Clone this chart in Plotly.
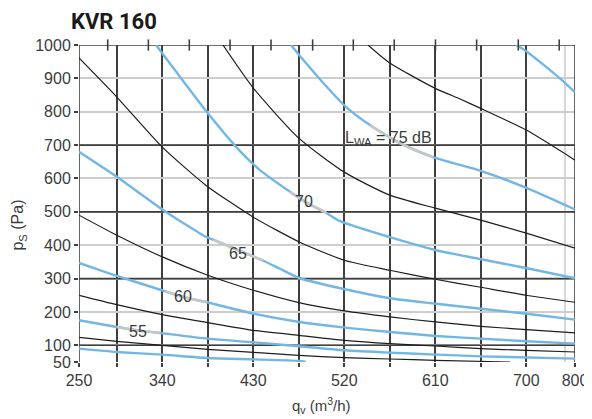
import plotly.graph_objects as go

# ---------------- axis / tick data ----------------
X_TICK_POS = [257.6, 340, 430, 520, 610, 700, 748.2]
X_TICK_TEXT = ['250', '340', '430', '520', '610', '700', '800']
X_MINOR_GRID = [295, 385, 475, 565, 655]
X_LIGHT_GRID = [738.3]
X_TOP_TICKS = [286.0, 326.2, 366.7, 407.0, 447.5, 488.7, 528.9, 569.4, 610.2, 650.9, 692.1, 732.6]
Y_TICKS = [50, 100, 200, 300, 400, 500, 600, 700, 800, 900, 1000]
Y_DARK = [100, 300, 500, 700, 1000]
X_RANGE = [257.6, 748.2]
Y_RANGE = [50, 1000]

# ---------------- fan curves (black) ----------------
FAN_A_X = [543.4, 565, 610, 634.6, 655, 700, 748.2]
FAN_A_Y = [1000, 946, 870, 838, 810, 745, 655]
FAN_B_X = [400, 430, 475, 520, 565, 610, 655, 700, 748.2]
FAN_B_Y = [1000, 871, 721, 619, 550, 511, 475, 436, 391]
FAN_C_X = [257.6, 295, 340, 383, 430, 476, 520, 565, 610, 655, 700, 748.2]
FAN_C_Y = [961, 844, 694, 580, 484, 409, 355, 325, 298, 274, 250, 229]
FAN_D_X = [257.6, 295, 340, 385, 430, 475, 520, 565, 610, 655, 700, 748.2]
FAN_D_Y = [490, 430, 365, 310, 265, 228, 203, 185, 170, 157, 147, 137]
FAN_E_X = [257.6, 295, 340, 385, 430, 475, 520, 565, 610, 655, 700, 748.2]
FAN_E_Y = [250, 222, 192, 168, 145, 130, 115, 105, 98, 90, 85, 80]
FAN_F_X = [257.6, 295, 340, 385, 430, 475, 520, 565, 610, 684]
FAN_F_Y = [124, 112, 100, 88, 79, 70, 63, 59, 55, 50]

# ---------------- sound level curves (blue) ----------------
S80_X = [690, 700.7, 733.3, 748.2]
S80_Y = [1000, 980, 900, 858]
S75_X = [467.3, 476.2, 501.9, 520.7, 545.4, 575.1, 607.7, 655.7, 700.7, 748.2]
S75_Y = [1000, 967, 877, 817, 760, 706, 664, 622, 571, 507]
S70_X = [333.8, 384.9, 415.9, 436.6, 466.3, 480.2, 502.6, 515.7, 575.1, 610.7, 655.2, 700.7, 748.2]
S70_Y = [1000, 796, 685, 625, 560, 532, 496, 472, 415, 385, 358, 331, 301]
S65_X = [257.6, 295, 341, 383.2, 390.5, 415, 440, 456.4, 476.2, 520.7, 565.2, 610.7, 655.2, 700.7, 748.2]
S65_Y = [680, 605, 505, 425, 416.5, 385, 353.5, 329.5, 301, 268, 241, 224.5, 209.5, 194.5, 177]
S60_X = [257.6, 295, 342.7, 361.5, 384.4, 430, 475.5, 520.7, 565.2, 610.7, 655.2, 700.7, 748.2]
S60_Y = [347, 308, 262, 244, 229, 195, 170, 153, 140, 128, 120, 112, 105]
S55_X = [257.6, 295, 315, 337.7, 385, 430, 475, 520.7, 565.2, 605, 655, 748.2]
S55_Y = [175, 155, 145, 137, 120, 109, 97, 85, 78, 73, 67, 60]
S50_X = [257.6, 295, 340, 385, 430, 475, 481.9]
S50_Y = [90, 80, 72, 62, 58, 53.5, 50.5]

# grey (label) sections of the sound curves: [start, end] in x
S75_GREY = [545.4, 607.7]
S70_GREY = [466.3, 502.6]
S65_GREY = [390.5, 440]
S60_GREY = [342.7, 384.4]
S55_GREY = [295, 337.7]

LABEL_TEXT = ['L<sub>WA</sub> = 75 dB', '70', '65', '60', '55']
LABEL_X = [518.7, 480.2, 415, 360.5, 315.5]
LABEL_Y = [720, 532, 375, 245, 140]
LABEL_ANCHOR = ['left', 'center', 'center', 'center', 'center']

TITLE = 'KVR 160'
X_TITLE = 'q<sub>v</sub> (m<sup>3</sup>/h)'
Y_TITLE = 'p<sub>S</sub> (Pa)'

BLACK = '#1e1e1e'
BLUE = '#72b7e4'
GREY_SEG = '#c6c6c6'
DARK_GRID = '#3f3f3f'
LIGHT_GRID = '#cdcdcd'
TEXT = '#3c3c3c'
FONT = 'Liberation Sans, Arial, sans-serif'

fig = go.Figure()

# special grid lines (drawn first, below the curves)
for xv in X_LIGHT_GRID:
    fig.add_trace(go.Scatter(x=[xv, xv], y=Y_RANGE, mode='lines', cliponaxis=False,
                             line=dict(color=LIGHT_GRID, width=1.6),
                             hoverinfo='skip', showlegend=False))
for yv in Y_DARK:
    fig.add_trace(go.Scatter(x=X_RANGE, y=[yv, yv], mode='lines', cliponaxis=False,
                             line=dict(color=DARK_GRID, width=1.6),
                             hoverinfo='skip', showlegend=False))
for xv in X_RANGE:
    fig.add_trace(go.Scatter(x=[xv, xv], y=Y_RANGE, mode='lines', cliponaxis=False,
                             line=dict(color=DARK_GRID, width=1.6),
                             hoverinfo='skip', showlegend=False))

for xs, ys in [(FAN_A_X, FAN_A_Y), (FAN_B_X, FAN_B_Y), (FAN_C_X, FAN_C_Y),
               (FAN_D_X, FAN_D_Y), (FAN_E_X, FAN_E_Y), (FAN_F_X, FAN_F_Y)]:
    fig.add_trace(go.Scatter(x=xs, y=ys, mode='lines',
                             line=dict(color=BLACK, width=1.2, shape='spline', smoothing=0.6),
                             hoverinfo='skip', showlegend=False))

sound = [(S80_X, S80_Y, None), (S75_X, S75_Y, S75_GREY), (S70_X, S70_Y, S70_GREY),
         (S65_X, S65_Y, S65_GREY), (S60_X, S60_Y, S60_GREY), (S55_X, S55_Y, S55_GREY),
         (S50_X, S50_Y, None)]
for xs, ys, grey in sound:
    fig.add_trace(go.Scatter(x=xs, y=ys, mode='lines',
                             line=dict(color=BLUE, width=2.4, shape='spline', smoothing=0.6),
                             hoverinfo='skip', showlegend=False))
    if grey:
        gx = [x for x in xs if grey[0] <= x <= grey[1]]
        gy = [y for x, y in zip(xs, ys) if grey[0] <= x <= grey[1]]
        fig.add_trace(go.Scatter(x=gx, y=gy, mode='lines',
                                 line=dict(color=GREY_SEG, width=2.6, shape='spline', smoothing=0.6),
                                 hoverinfo='skip', showlegend=False))

# small ticks on the top border
fig.add_trace(go.Scatter(x=X_TOP_TICKS, y=[Y_RANGE[1]] * len(X_TOP_TICKS), mode='markers',
                         marker=dict(symbol='line-ns', size=8, line=dict(width=1.6, color=DARK_GRID)),
                         cliponaxis=False, hoverinfo='skip', showlegend=False))

annotations = []
for t, x, y, a in zip(LABEL_TEXT, LABEL_X, LABEL_Y, LABEL_ANCHOR):
    annotations.append(dict(text=t, x=x, y=y, xref='x', yref='y', showarrow=False,
                            xanchor=a, yanchor='middle', font=dict(size=16, color=TEXT, family=FONT)))
annotations.append(dict(text=X_TITLE, xref='paper', yref='paper', x=0.488, y=-0.136,
                        showarrow=False, xanchor='center', yanchor='middle',
                        font=dict(size=15, color=TEXT, family=FONT)))
annotations.append(dict(text=Y_TITLE, xref='paper', yref='paper', x=-0.122, y=0.432,
                        showarrow=False, xanchor='center', yanchor='middle', textangle=-90,
                        font=dict(size=16, color=TEXT, family=FONT)))
annotations.append(dict(text='<b>' + TITLE + '</b>', xref='paper', yref='paper',
                        x=-0.021, y=1.073, showarrow=False, xanchor='left', yanchor='middle',
                        font=dict(size=22, color='#1a1a1a', family='Roboto, sans-serif')))

# page body has an 8px margin: compensate so the plot sits where the reference has it
fig.update_layout(
    width=584, height=411,
    margin=dict(l=71, r=17, t=37, b=57, autoexpand=False),
    paper_bgcolor='white', plot_bgcolor='white',
    annotations=annotations,
    xaxis=dict(range=X_RANGE, tickmode='array', tickvals=X_TICK_POS, ticktext=X_TICK_TEXT,
               automargin=False,
               showgrid=True, gridcolor=DARK_GRID, gridwidth=1.6,
               ticks='outside', ticklen=4, tickwidth=1.6, tickcolor=DARK_GRID,
               minor=dict(tickvals=X_MINOR_GRID, showgrid=True, gridcolor=DARK_GRID, gridwidth=1.6,
                          ticks='outside', ticklen=4, tickwidth=1.6, tickcolor=DARK_GRID),
               zeroline=False, showline=False, ticklabeloverflow='allow',
               tickfont=dict(size=16, color=TEXT, family=FONT)),
    yaxis=dict(range=Y_RANGE, tickmode='array', tickvals=Y_TICKS,
               automargin=False,
               showgrid=True, gridcolor=LIGHT_GRID, gridwidth=1.6,
               ticks='outside', ticklen=4, tickwidth=1.6, tickcolor=DARK_GRID,
               zeroline=False, showline=False,
               tickfont=dict(size=16, color=TEXT, family=FONT)),
)

fig.write_html('out.html')
